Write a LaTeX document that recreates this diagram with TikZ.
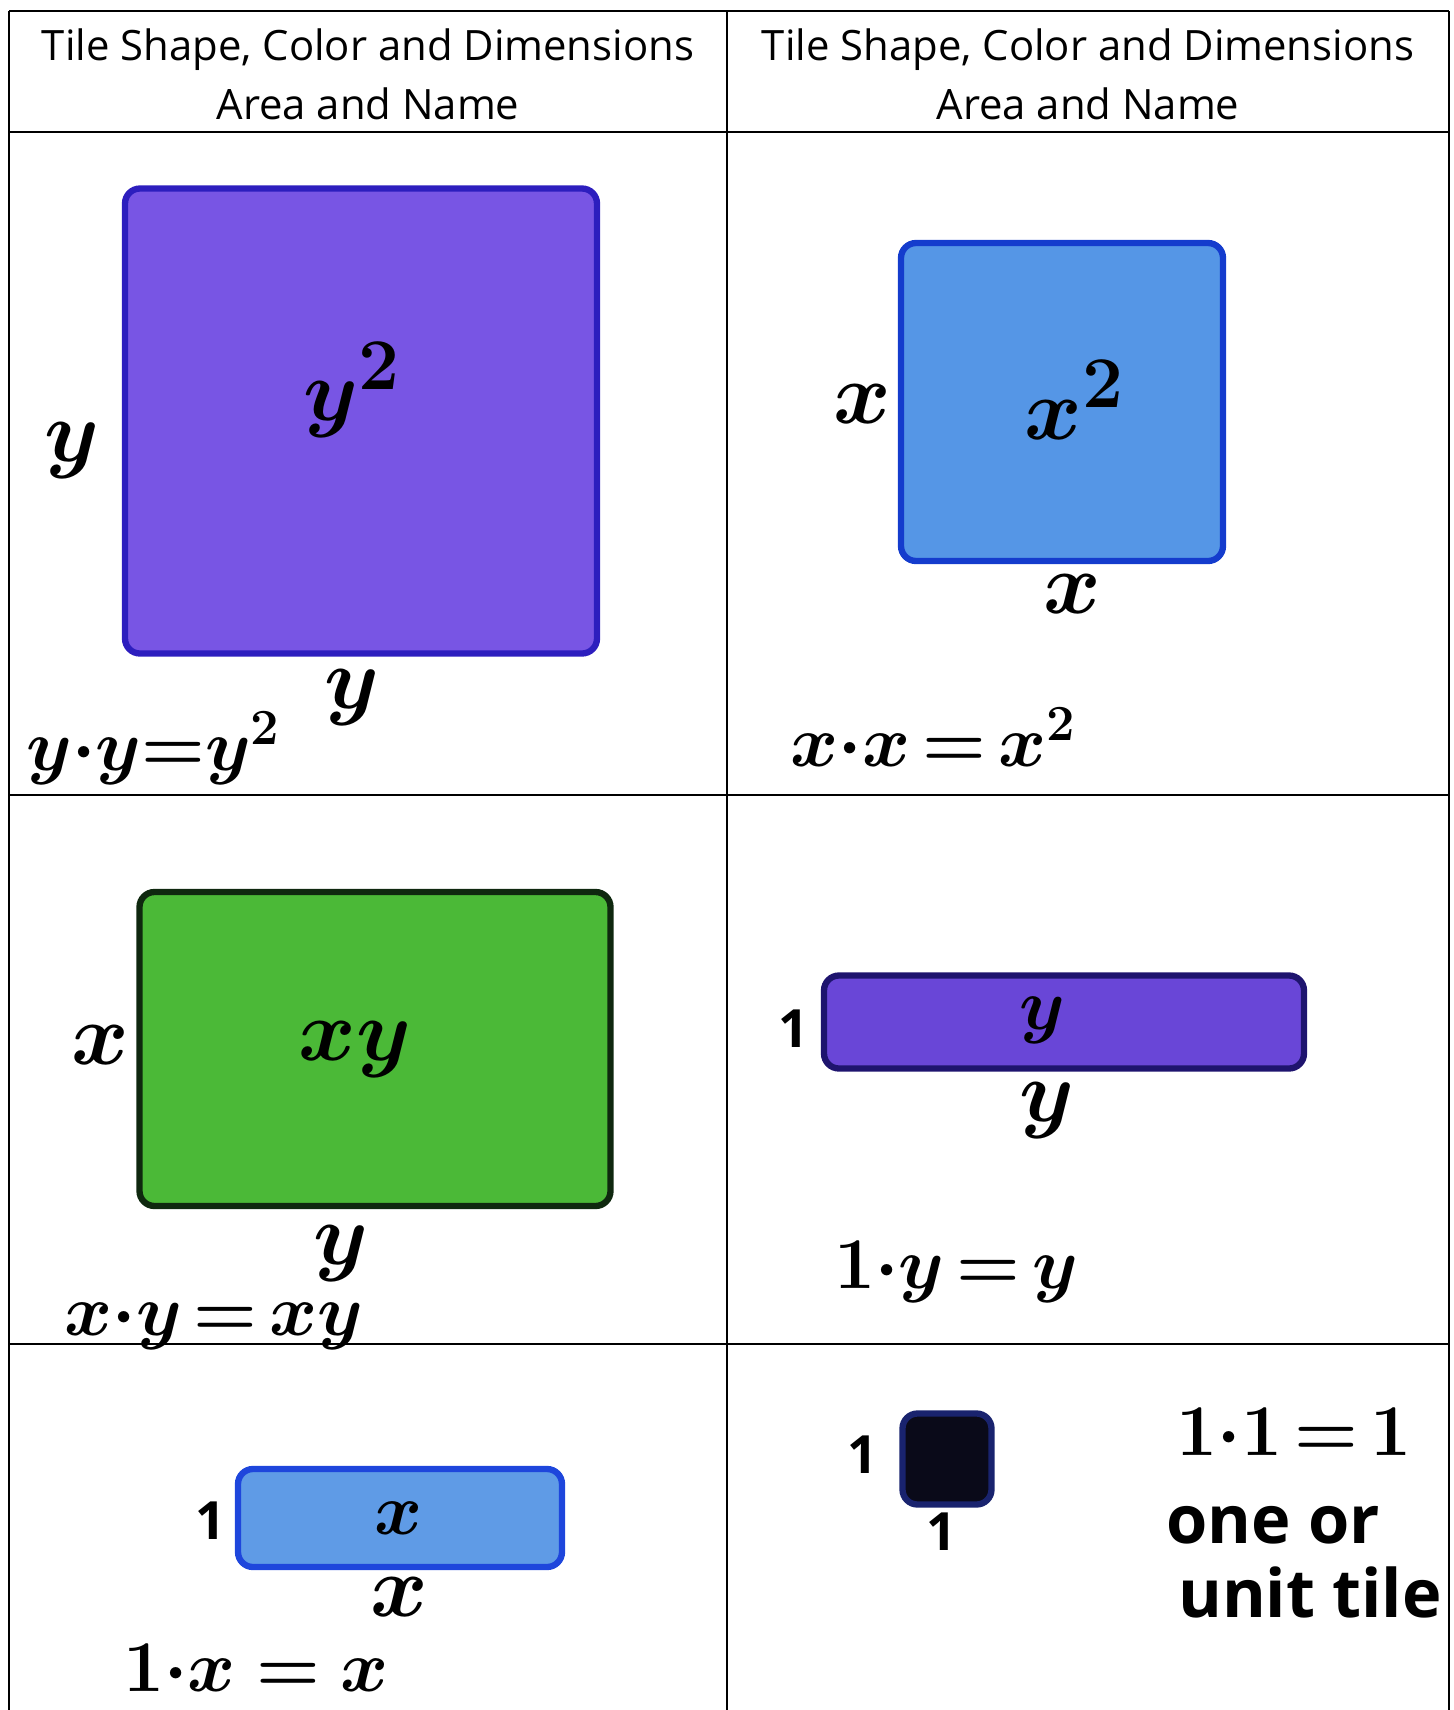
\documentclass[tikz,border=0pt]{standalone}
\usepackage{amsmath}
\usepackage{bm}
\usepackage{fontspec}
\setmainfont{Open Sans}
\usepackage{tikz}

\definecolor{ysqfill}{RGB}{120,85,228}
\definecolor{ysqline}{RGB}{45,30,190}
\definecolor{xsqfill}{RGB}{85,150,230}
\definecolor{xsqline}{RGB}{20,60,205}
\definecolor{xyfill}{RGB}{75,185,55}
\definecolor{xyline}{RGB}{15,40,15}
\definecolor{ybarfill}{RGB}{105,70,215}
\definecolor{ybarline}{RGB}{30,20,110}
\definecolor{xbarfill}{RGB}{95,155,230}
\definecolor{xbarline}{RGB}{30,70,220}
\definecolor{unitfill}{RGB}{10,10,25}
\definecolor{unitline}{RGB}{25,35,110}

\tikzset{
  grid/.style={line width=0.8pt,black},
  head/.style={align=center,font=\fontsize{11.9}{16.8}\selectfont},
  tile/.style={draw,line width=1.8pt,rounded corners=1.5mm,inner sep=0pt},
  lbl/.style={font=\fontsize{26}{28}\selectfont,inner sep=0pt},
  digit/.style={font=\fontsize{15}{17}\selectfont\bfseries,inner sep=0pt},
  area/.style={font=\fontsize{32}{34}\selectfont,inner sep=0pt},
  inner/.style={font=\fontsize{22}{24}\selectfont,inner sep=0pt},
  eqn/.style={font=\fontsize{19.5}{22}\selectfont,inner sep=0pt,anchor=west},
  words/.style={font=\fontsize{19}{22}\selectfont\bfseries,inner sep=0pt}
}

\begin{document}
\begin{tikzpicture}[x=0.1mm,y=-0.1mm]
  \useasboundingbox (0,0) rectangle (1454,1710);
  % Table
  \foreach \yy in {11,132,795,1344}{
    \draw[grid] (9,\yy) -- (1449,\yy);
  }
  \foreach \xx in {9,727,1449}{
    \draw[grid] (\xx,11) -- (\xx,1710);
  }
  \foreach \cx/\nm in {368/headL,1088/headR}{
    \node[head] (\nm) at (\cx,74) {Tile Shape, Color and Dimensions\\Area and Name};
  }
  % y squared (top left)
  \node[tile,draw=ysqline,fill=ysqfill,minimum width=47.2mm,minimum height=46.5mm]
    (ysq) at (361,421) {};
  \node[area] (ysqA) at (352,390) {$\bm{y^2}$};
  \node[lbl] (ysqL) at (72,451) {$\bm{y}$};
  \node[lbl] (ysqB) at (352,698) {$\bm{y}$};
  \node[eqn] (ysqE) at (26,748) {$\bm{y{\cdot}y{=}y^2}$};
  % x squared (top right)
  \node[tile,draw=xsqline,fill=xsqfill,minimum width=32.2mm,minimum height=31.8mm]
    (xsq) at (1062,402) {};
  \node[area] (xsqA) at (1075,400) {$\bm{x^2}$};
  \node[lbl] (xsqL) at (862,404) {$\bm{x}$};
  \node[lbl] (xsqB) at (1072,594) {$\bm{x}$};
  \node[eqn] (xsqE) at (790,737) {$\bm{x{\cdot}x\,{=}\,x^2}$};
  % xy rectangle (middle left)
  \node[tile,draw=xyline,fill=xyfill,minimum width=47.1mm,minimum height=31.4mm]
    (xyr) at (375,1049) {};
  \node[area] (xyrA) at (355,1050) {$\bm{xy}$};
  \node[lbl] (xyrL) at (100,1045) {$\bm{x}$};
  \node[lbl] (xyrB) at (341,1254) {$\bm{y}$};
  \node[eqn] (xyrE) at (64,1325) {$\bm{x{\cdot}y\,{=}\,xy}$};
  % y bar (middle right)
  \node[tile,draw=ybarline,fill=ybarfill,minimum width=48mm,minimum height=9.3mm]
    (ybar) at (1064,1022) {};
  \node[inner] (ybarA) at (1042,1020) {$\bm{y}$};
  \node[digit] (ybarL) at (794,1029) {1};
  \node[lbl] (ybarB) at (1047,1111) {$\bm{y}$};
  \node[eqn] (ybarE) at (834,1272) {$\bm{1{\cdot}y\,{=}\,y}$};
  % x bar (bottom left)
  \node[tile,draw=xbarline,fill=xbarfill,minimum width=32.4mm,minimum height=9.8mm]
    (xbar) at (400,1518) {};
  \node[inner] (xbarA) at (399,1518) {$\bm{x}$};
  \node[digit] (xbarL) at (211,1521) {1};
  \node[lbl] (xbarB) at (399,1597) {$\bm{x}$};
  \node[eqn] (xbarE) at (123,1668) {$\bm{1{\cdot}x\;{=}\;x}$};
  % unit tile (bottom right)
  \node[tile,draw=unitline,fill=unitfill,minimum width=8.9mm,minimum height=9.1mm]
    (unit) at (947,1459) {};
  \node[digit] (unitL) at (863,1455) {1};
  \node[digit] (unitB) at (942,1532) {1};
  \node[eqn] (unitE) at (1176,1432) {$\bm{1{\cdot}1\,{=}\,1}$};
  \node[words] (unitW1) at (1273,1525) {one or};
  \node[words] (unitW2) at (1310,1592) {unit tile};
\end{tikzpicture}
\end{document}
